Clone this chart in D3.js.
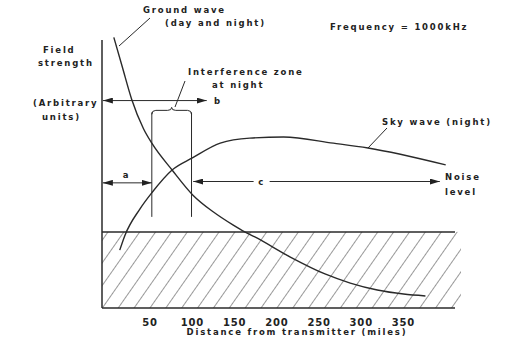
<!DOCTYPE html>
<html>
  <head>
    <meta charset="utf-8">
    <title>Ground wave and sky wave field strength</title>
    <script src="https://d3js.org/d3.v7.min.js"></script>
    <style>
      body { margin: 0; background: #fff; }
      text { font-family: "DejaVu Sans", sans-serif; font-weight: bold; fill: #222; }
      .lbl { font-size: 8.5px; letter-spacing: 1.8px; }
      .tick { font-size: 10px; letter-spacing: 0.8px; }
      .ink { stroke: #2a2a2a; fill: none; }
    </style>
  </head>
  <body>
    <svg id="chart" width="515" height="339"></svg>
    <script>
      // distance (miles) and field strength (arbitrary units, 0-100)
      var groundDist = [7, 17, 28, 42, 52, 76, 101, 125, 148, 162, 174, 216, 257, 287, 319, 350, 376];
      var groundVal  = [101, 90, 78, 67, 61.5, 51.5, 42, 35.8, 31, 28.4, 26.5, 19, 12.7, 9.3, 6.7, 5.2, 4.5];
      var skyDist = [14, 20, 38, 52, 76, 100, 133, 168, 208, 267, 308, 400];
      var skyVal  = [21.6, 27, 37, 43, 51.5, 56, 61.5, 63.4, 63.8, 61.5, 59.7, 53.4];
      var noiseLevel = 28.4;
      var zone = [52, 99];           // interference zone at night
      var tickValues = [50, 100, 150, 200, 250, 300, 350];
      var tickLabels = ["50", "100", "150", "200", "250", "300", "350"];

      var svg = d3.select("#chart");
      var x = d3.scaleLinear().domain([-7, 411]).range([102, 455]);
      var y = d3.scaleLinear().domain([0, 100]).range([308, 40]);

      // hatch pattern for noise
      var defs = svg.append("defs");
      defs.append("pattern")
          .attr("id", "hatch")
          .attr("patternUnits", "userSpaceOnUse")
          .attr("width", 13).attr("height", 13)
          .attr("patternTransform", "rotate(35)")
        .append("line")
          .attr("x1", 0).attr("y1", 0).attr("x2", 0).attr("y2", 13)
          .attr("stroke", "#333").attr("stroke-width", 1);
      defs.append("marker")
          .attr("id", "head")
          .attr("viewBox", "0 0 10 6")
          .attr("refX", 10).attr("refY", 3)
          .attr("markerWidth", 10).attr("markerHeight", 6)
          .attr("markerUnits", "userSpaceOnUse")
          .attr("orient", "auto-start-reverse")
        .append("path")
          .attr("d", "M0,0L10,3L0,6Z")
          .attr("fill", "#222");

      // noise area
      svg.append("rect")
          .attr("x", x(-7)).attr("y", y(noiseLevel))
          .attr("width", x(411) - x(-7) + 6).attr("height", y(0) - y(noiseLevel))
          .attr("fill", "url(#hatch)");
      svg.append("line").attr("class", "ink")
          .attr("x1", x(-7)).attr("x2", x(411))
          .attr("y1", y(noiseLevel)).attr("y2", y(noiseLevel))
          .attr("stroke-width", 1.5);
      svg.append("line").attr("class", "ink")
          .attr("x1", x(-7)).attr("x2", x(411))
          .attr("y1", y(0)).attr("y2", y(0))
          .attr("stroke-width", 1.5);
      // y axis
      svg.append("line").attr("class", "ink")
          .attr("x1", x(-7)).attr("x2", x(-7))
          .attr("y1", y(0)).attr("y2", y(100))
          .attr("stroke-width", 1.5);

      // x tick labels
      svg.selectAll(".tick")
          .data(tickValues)
        .enter().append("text")
          .attr("class", "tick")
          .attr("x", function(d) { return x(d); })
          .attr("y", 326)
          .attr("text-anchor", "middle")
          .text(function(d, i) { return tickLabels[i]; });
      svg.append("text").attr("class", "lbl")
          .attr("x", 297).attr("y", 335)
          .attr("text-anchor", "middle")
          .text("Distance  from  transmitter  (miles)");

      // curves
      var line = d3.line()
          .x(function(d) { return x(d[0]); })
          .y(function(d) { return y(d[1]); })
          .curve(d3.curveMonotoneX);
      svg.append("path").attr("class", "ink")
          .attr("stroke-width", 1.4)
          .attr("d", line(d3.zip(groundDist, groundVal)));
      svg.append("path").attr("class", "ink")
          .attr("stroke-width", 1.4)
          .attr("d", line(d3.zip(skyDist, skyVal)));

      // interference zone
      zone.forEach(function(d) {
        svg.append("line").attr("class", "ink")
            .attr("stroke-width", 1)
            .attr("x1", x(d)).attr("x2", x(d))
            .attr("y1", y(73)).attr("y2", y(34));
      });
      var bx0 = x(zone[0]), bx1 = x(zone[1]), bm = (bx0 + bx1) / 2, by = y(73);
      svg.append("path").attr("class", "ink")
          .attr("stroke-width", 1)
          .attr("d", "M" + bx0 + "," + (by + 2) + "Q" + bx0 + "," + (by - 2) + " " + (bx0 + 4) + "," + (by - 2)
            + "L" + (bm - 4) + "," + (by - 2) + "Q" + bm + "," + (by - 2) + " " + bm + "," + (by - 5)
            + "Q" + bm + "," + (by - 2) + " " + (bm + 4) + "," + (by - 2)
            + "L" + (bx1 - 4) + "," + (by - 2) + "Q" + bx1 + "," + (by - 2) + " " + bx1 + "," + (by + 2));

      // distance arrows a, b, c
      function arrow(d0, d1, v) {
        return svg.append("line").attr("class", "ink")
            .attr("stroke-width", 1)
            .attr("x1", x(d0)).attr("x2", x(d1))
            .attr("y1", y(v)).attr("y2", y(v))
            .attr("marker-end", "url(#head)")
            .attr("marker-start", "url(#head)");
      }
      arrow(-6, 117, 77.4);
      arrow(-6, 52, 46.7);
      arrow(101, 393, 47.2);
      svg.append("rect")
          .attr("x", x(182) - 8).attr("y", y(47.2) - 3)
          .attr("width", 16).attr("height", 6)
          .attr("fill", "#fff");

      // labels
      function label(txt, px, py, anchor) {
        svg.append("text").attr("class", "lbl")
            .attr("x", px).attr("y", py)
            .attr("text-anchor", anchor || "start")
            .text(txt);
      }
      label("b", 214, 104);
      label("a", x(22), 178, "middle");
      label("c", x(182), 185, "middle");
      label("Ground wave", 143, 13);
      label("(day and night)", 165, 26);
      label("Frequency = 1000kHz", 330, 30);
      label("Field", 43, 53);
      label("strength", 38, 66);
      label("(Arbitrary", 33, 106);
      label("units)", 42, 120);
      label("Interference zone", 188, 75);
      label("at night", 212, 88);
      label("Sky wave  (night)", 382, 125);
      label("Noise", 445, 180);
      label("level", 445, 195);

      // leader lines
      var leaders = [[150, 18, 119, 46], [185, 81, 175, 107], [387, 128, 368, 148]];
      leaders.forEach(function(l) {
        svg.append("line").attr("class", "ink")
            .attr("stroke-width", 1)
            .attr("x1", l[0]).attr("y1", l[1]).attr("x2", l[2]).attr("y2", l[3]);
      });
    </script>
  </body>
</html>
